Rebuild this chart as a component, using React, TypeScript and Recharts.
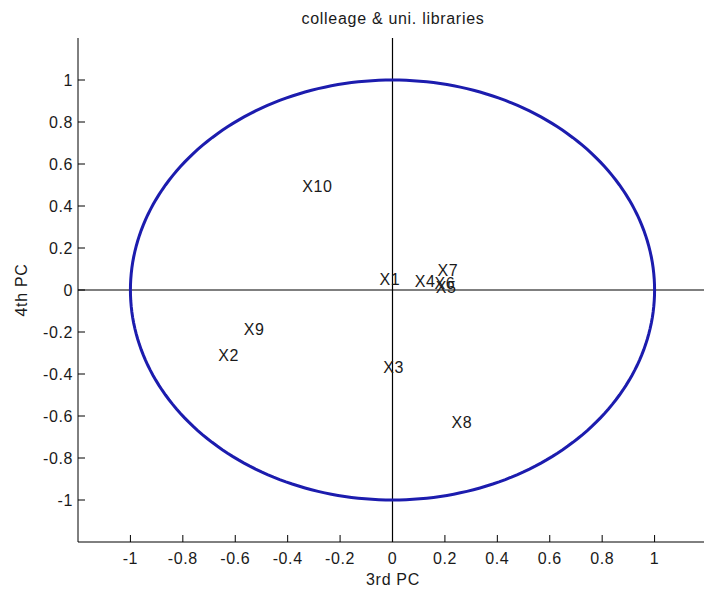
import React from 'react'
import {
  ScatterChart,
  Scatter,
  XAxis,
  YAxis,
  ReferenceLine,
} from 'recharts'

// variable loadings on the 3rd / 4th principal components
const varNames = ['X1', 'X2', 'X3', 'X4', 'X5', 'X6', 'X7', 'X8', 'X9', 'X10']
const pc3 = [-0.05, -0.665, -0.035, 0.085, 0.165, 0.16, 0.172, 0.225, -0.568, -0.344]
const pc4 = [0.05, -0.31, -0.367, 0.04, 0.01, 0.03, 0.092, -0.629, -0.19, 0.495]

const axisTicks = [-1, -0.8, -0.6, -0.4, -0.2, 0, 0.2, 0.4, 0.6, 0.8, 1]

const loadings = varNames.map((name, i) => ({ name, x: pc3[i], y: pc4[i] }))

// unit correlation circle (reference curve, not data)
const unitCircle = Array.from({ length: 241 }, (_, i) => {
  const t = (i / 240) * Math.PI * 2
  return { x: Math.cos(t), y: Math.sin(t) }
})

const FONT = "'Liberation Sans', Arial, sans-serif"
const textStyle = { fontFamily: FONT, fontSize: 16, letterSpacing: 0.6, fill: '#1a1a1a' }
const htmlText = { fontSize: 16, letterSpacing: 0.7, color: '#1a1a1a' }

const fmt = (v: number) => (v === 0 ? '0' : String(Number(v.toFixed(1))))

const XTick = (props: any) => {
  const { x, y, payload } = props
  return (
    <g>
      <line x1={x} x2={x} y1={y} y2={y - 7} stroke="#000" />
      <text x={x} y={y + 22} textAnchor="middle" style={textStyle}>
        {fmt(payload.value)}
      </text>
    </g>
  )
}

const YTick = (props: any) => {
  const { x, y, payload } = props
  return (
    <g>
      <line x1={x} x2={x + 7} y1={y} y2={y} stroke="#000" />
      <text x={x - 5} y={y + 6} textAnchor="end" style={textStyle}>
        {fmt(payload.value)}
      </text>
    </g>
  )
}

const LoadingLabel = (props: any) => {
  const { cx, cy, payload } = props
  return (
    <text x={cx} y={cy} dominantBaseline="central" style={textStyle}>
      {payload.name}
    </text>
  )
}

export default function App() {
  return (
    <div
      style={{
        position: 'fixed',
        left: 0,
        top: 0,
        width: 704,
        height: 593,
        overflow: 'hidden',
        background: '#fff',
        fontFamily: FONT,
      }}
    >
      <div
        style={{
          ...htmlText,
          position: 'absolute',
          left: 0,
          width: 786,
          top: 10,
          textAlign: 'center',
        }}
      >
        colleage &amp; uni. libraries
      </div>
      <div
        style={{
          ...htmlText,
          position: 'absolute',
          left: 0,
          width: 786,
          top: 571,
          textAlign: 'center',
        }}
      >
        3rd PC
      </div>
      <div
        style={{
          ...htmlText,
          position: 'absolute',
          left: 22,
          top: 290,
          transform: 'translate(-50%, -50%) rotate(-90deg)',
          whiteSpace: 'nowrap',
        }}
      >
        4th PC
      </div>
      <ScatterChart
        width={720}
        height={593}
        margin={{ top: 38, right: 13, left: 0, bottom: 0 }}
        style={{ position: 'absolute', left: 0, top: 0 }}
      >
        <XAxis
          type="number"
          dataKey="x"
          domain={[-1.2, 1.2]}
          ticks={axisTicks}
          allowDataOverflow
          height={51}
          tickSize={0}
          tickMargin={0}
          tickLine={false}
          axisLine={{ stroke: '#000' }}
          tick={<XTick />}
          interval={0}
        />
        <YAxis
          type="number"
          dataKey="y"
          domain={[-1.2, 1.2]}
          ticks={axisTicks}
          allowDataOverflow
          width={78}
          tickSize={0}
          tickMargin={0}
          tickLine={false}
          axisLine={{ stroke: '#000' }}
          tick={<YTick />}
          interval={0}
        />
        <ReferenceLine x={0} stroke="#000" strokeWidth={1.2} />
        <ReferenceLine y={0} stroke="#000" strokeWidth={1.2} />
        <Scatter
          data={unitCircle}
          line={{ stroke: '#1c1cae', strokeWidth: 3 }}
          lineType="joint"
          shape={() => <g />}
          isAnimationActive={false}
        />
        <Scatter
          data={loadings}
          shape={<LoadingLabel />}
          isAnimationActive={false}
        />
      </ScatterChart>
    </div>
  )
}
